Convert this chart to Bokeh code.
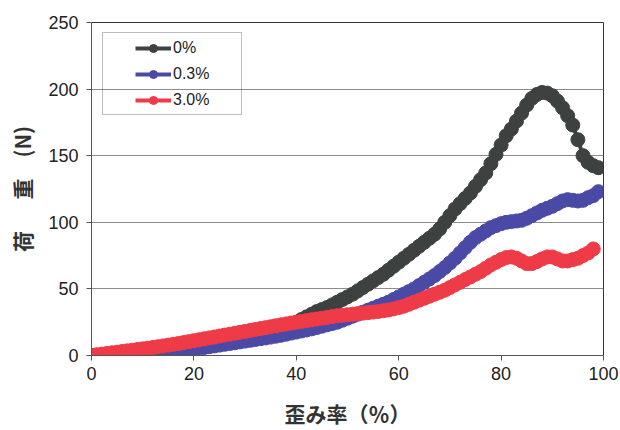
from bokeh.plotting import figure
from bokeh.models import Legend, LegendItem, BoxAnnotation, FixedTicker, Range1d
from bokeh.embed import file_html
from bokeh.resources import INLINE

# ---- data ----
strain = [0, 1, 2, 3, 4, 5, 6, 7, 8, 9, 10, 11, 12, 13, 14, 15, 16, 17, 18, 19,
          20, 21, 22, 23, 24, 25, 26, 27, 28, 29, 30, 31, 32, 33, 34, 35, 36, 37, 38, 39,
          40, 41, 42, 43, 44, 45, 46, 47, 48, 49, 50, 51, 52, 53, 54, 55, 56, 57, 58, 59,
          60, 61, 62, 63, 64, 65, 66, 67, 68, 69, 70, 71, 72, 73, 74, 75, 76, 77, 78, 79,
          80, 81, 82, 83, 84, 85, 86, 87, 88, 89, 90, 91, 92, 93, 94, 95, 96, 97, 98, 99]

load_0 = [0, 0.2, 0.5, 0.8, 1, 1.2, 1.5, 1.8, 2, 2.3, 2.6,
          3, 3.4, 3.8, 4.2, 4.7, 5.2, 5.8, 6.4, 7, 7.7,
          8.4, 9.1, 9.8, 10.5, 11.2, 12, 12.8, 13.6, 14.4, 15.2,
          16, 16.8, 17.6, 18.5, 19.4, 20.3, 21.2, 22.2, 23.3, 25,
          27, 29, 31, 33, 34.5, 36, 38, 40, 42, 44,
          46, 48.5, 51, 53.5, 56, 58.5, 61, 64, 67, 70,
          73, 76, 79, 82, 85, 88, 91, 95, 100, 105,
          110, 114, 118, 122, 127, 132, 137, 144, 151, 158,
          165, 170, 176, 182, 188, 193, 196, 197.5, 197, 195,
          191, 186, 180, 173, 162, 150, 145, 142.5, 141]

load_03 = [0, 0.1, 0.3, 0.5, 0.7, 0.9, 1.1, 1.3, 1.5, 1.7, 1.9,
           2.1, 2.3, 2.5, 2.7, 3, 3.3, 3.6, 4, 4.5, 5,
           5.5, 6, 6.6, 7.2, 7.8, 8.4, 9, 9.6, 10.2, 10.8,
           11.4, 12, 12.6, 13.2, 13.8, 14.5, 15.2, 16, 16.8, 17.6,
           18.4, 19.2, 20, 21, 22, 23, 24, 25, 26.5, 28,
           29.5, 31, 32.5, 34, 35.5, 37, 38.5, 40, 42, 44,
           46, 48, 50, 52.5, 55, 57.5, 60, 63, 66, 69.5,
           73, 77, 81, 85, 88.5, 91, 93.5, 96, 97.5, 99,
           100, 100.5, 101, 101.5, 103, 105, 107, 109, 110.5, 112,
           114, 116, 117, 116.5, 116, 116.5, 118.5, 120, 123]

load_30 = [0, 0.5, 1, 1.5, 2, 2.5, 3, 3.5, 4, 4.5, 5,
           5.5, 6, 6.6, 7.2, 7.8, 8.4, 9, 9.7, 10.4, 11.1,
           11.8, 12.5, 13.2, 13.9, 14.6, 15.3, 16, 16.7, 17.4, 18.1,
           18.8, 19.5, 20.2, 20.9, 21.6, 22.3, 23, 23.7, 24.4, 25,
           25.6, 26.2, 26.8, 27.4, 28, 28.6, 29.2, 29.8, 30.2, 30.6,
           31, 31.4, 31.8, 32.2, 32.6, 33, 33.6, 34.2, 35, 36,
           37, 38.5, 40, 41.5, 43, 44.5, 46, 47.5, 49, 51,
           53, 55, 57, 59, 61, 63, 65.5, 68, 70, 72,
           73.5, 74, 73, 71, 69, 69, 70.5, 72.5, 74, 74,
           72.5, 71, 71, 72, 73, 75, 77, 80]

series_labels = ["0%", "0.3%", "3.0%"]
x_ticks = [0, 20, 40, 60, 80, 100]
y_ticks = [0, 50, 100, 150, 200, 250]

colors = ["#3d4240", "#4a4aa6", "#ef3b47"]

p = figure(width=620, height=430, output_backend="svg", toolbar_location=None,
           x_range=Range1d(0, 100), y_range=Range1d(0, 250),
           min_border_left=91, min_border_right=17, min_border_top=22,
           min_border_bottom=75, background_fill_color="white",
           border_fill_color="white")

p.outline_line_color = "#333333"
p.outline_line_width = 1
p.xgrid.grid_line_color = None
p.ygrid.grid_line_color = "#8c8c8c"
p.ygrid.grid_line_width = 1

p.xaxis.ticker = FixedTicker(ticks=x_ticks)
p.yaxis.ticker = FixedTicker(ticks=y_ticks)
for ax in (p.xaxis[0], p.yaxis[0]):
    ax.axis_line_color = "#555555"
    ax.major_tick_line_color = "#555555"
    ax.major_tick_out = 5
    ax.major_tick_in = 0
    ax.minor_tick_line_color = None
    ax.major_label_text_font = "Liberation Sans"
    ax.major_label_text_font_size = "18px"
    ax.major_label_text_color = "#222222"
    ax.axis_label_text_font = "Noto Sans CJK JP"
    ax.axis_label_text_font_size = "21px"
    ax.axis_label_text_font_style = "bold"
    ax.axis_label_text_color = "#333333"

p.xaxis.major_label_standoff = 6
p.yaxis.major_label_standoff = 8
p.xaxis.axis_label = "歪み率（％）"
p.yaxis.axis_label = "荷\u3000\u2002重\u2002\u2002(N)"
p.xaxis.axis_label_standoff = 15
p.yaxis.axis_label_standoff = 8

items = []
for lab, ys, c in zip(series_labels, [load_0, load_03, load_30], colors):
    xs = strain[:len(ys)]
    ln = p.line(xs, ys, line_color=c, line_width=4)
    sc = p.scatter(xs, ys, size=14, fill_color=c, line_color=c)
    items.append(LegendItem(label=lab, renderers=[ln, sc]))

legend = Legend(items=items, location=(44, 245), padding=0, margin=0, spacing=6,
                glyph_width=36, glyph_height=20, label_height=20, label_standoff=2,
                border_line_alpha=0, background_fill_alpha=0,
                label_text_font="Liberation Sans", label_text_font_size="16px",
                label_text_color="#222222")
p.add_layout(legend)

box = BoxAnnotation(left=2.15, right=29.3, top=242.5, bottom=181,
                    fill_color=None, fill_alpha=0, line_color="#222222", line_width=1)
p.add_layout(box)

open("out.html", "w").write(file_html(p, INLINE))
